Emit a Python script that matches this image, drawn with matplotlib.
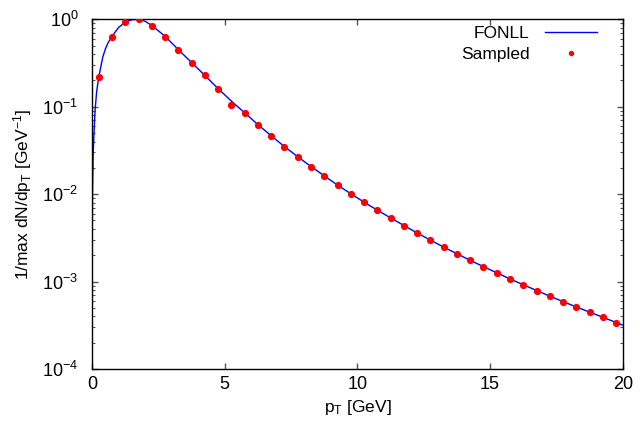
import matplotlib
matplotlib.use("Agg")
import matplotlib.pyplot as plt
from matplotlib.ticker import LogLocator, NullFormatter, FixedLocator

plt.rcParams["font.family"] = ["Liberation Sans", "DejaVu Sans"]
plt.rcParams["mathtext.fontset"] = "custom"
plt.rcParams["mathtext.rm"] = "Liberation Sans"
plt.rcParams["mathtext.it"] = "Liberation Sans:italic"

# FONLL curve
fonll_pt = [0.0001, 0.001, 0.005, 0.013, 0.04, 0.075, 0.11, 0.17, 0.25, 0.4, 0.5, 0.6,
            0.75, 1.0, 1.25, 1.5, 1.75, 2.0, 2.25, 2.75, 3.25, 3.75, 4.25, 4.75,
            5.25, 5.75, 6.25, 6.75, 7.25, 7.75, 8.25, 8.75, 9.25, 9.75, 10.25,
            10.75, 11.25, 11.75, 12.25, 12.75, 13.25, 13.75, 14.25, 14.75, 15.25,
            15.75, 16.25, 16.75, 17.25, 17.75, 18.25, 18.75, 19.25, 19.75, 20.0]
fonll_val = [8e-5, 8e-4, 4e-3, 0.01, 0.03, 0.054, 0.091, 0.15, 0.22, 0.37, 0.46, 0.54,
             0.64, 0.81, 0.93, 0.99, 1.0, 0.95, 0.85, 0.64, 0.45, 0.32, 0.228, 0.161,
             0.116, 0.085, 0.0625, 0.0465, 0.035, 0.0268, 0.0207, 0.0162, 0.0127,
             0.0101, 0.0081, 0.00655, 0.00535, 0.00438, 0.0036, 0.00298, 0.00248,
             0.00208, 0.00175, 0.00148, 0.00126, 0.00107, 0.00092, 0.00079, 0.00068,
             0.00059, 0.000512, 0.000447, 0.00039, 0.00034, 0.000318]

# sampled points
sampled_pt = [0.25, 0.75, 1.25, 1.75, 2.25, 2.75, 3.25, 3.75, 4.25, 4.75,
              5.25, 5.75, 6.25, 6.75, 7.25, 7.75, 8.25, 8.75, 9.25, 9.75,
              10.25, 10.75, 11.25, 11.75, 12.25, 12.75, 13.25, 13.75, 14.25, 14.75,
              15.25, 15.75, 16.25, 16.75, 17.25, 17.75, 18.25, 18.75, 19.25, 19.75]
sampled_val = [0.22, 0.63, 0.93, 1.0, 0.84, 0.63, 0.45, 0.32, 0.229, 0.161,
               0.105, 0.084, 0.0617, 0.0462, 0.0348, 0.0268, 0.0206, 0.0162, 0.0127, 0.0101,
               0.0081, 0.00653, 0.00537, 0.00436, 0.00356, 0.00296, 0.00248, 0.00208, 0.00175, 0.00148,
               0.00125, 0.00107, 0.000912, 0.000785, 0.000676, 0.000589, 0.000512, 0.000449, 0.00039, 0.000339]

xticks = [0, 5, 10, 15, 20]

fig = plt.figure(figsize=(6.4, 4.3), dpi=100)
ax = fig.add_axes([0.144, 0.142, 0.829, 0.813])

ax.plot(fonll_pt, fonll_val, color="#0000ff", lw=1.0, label="FONLL", zorder=2)
ax.plot(sampled_pt, sampled_val, "o", color="#ff0000", ms=5.2, mec="none",
        label="Sampled", zorder=3)

ax.set_yscale("log")
ax.set_xlim(0, 20)
ax.set_ylim(1e-4, 1)
ax.xaxis.set_major_locator(FixedLocator(xticks))
ax.yaxis.set_major_locator(LogLocator(base=10, numticks=10))
ax.yaxis.set_minor_locator(LogLocator(base=10, subs=range(2, 10), numticks=20))
ax.yaxis.set_minor_formatter(NullFormatter())

ax.tick_params(which="both", direction="in", top=True, right=True,
               color="#555555", labelsize=13)
ax.tick_params(which="major", length=4.5, width=1)
ax.tick_params(which="minor", length=2.5, width=0.8)
ax.tick_params(axis="x", pad=5)
ax.tick_params(axis="y", pad=10)
for s in ax.spines.values():
    s.set_linewidth(1.0)

ax.set_xlabel("p$_\\mathregular{T}$ [GeV]", fontsize=12.5, labelpad=4)
ax.set_ylabel("1/max dN/dp$_\\mathregular{T}$ [GeV$^\\mathregular{-1}$]", fontsize=12.5, labelpad=6)

leg = ax.legend(loc="upper right", bbox_to_anchor=(0.965, 1.0), frameon=False,
                markerfirst=False, fontsize=12.5, handlelength=3.0, handletextpad=0.9,
                labelspacing=0.3, borderaxespad=0.0, borderpad=0.4, markerscale=0.75)

fig.savefig("out.png", dpi=100)
